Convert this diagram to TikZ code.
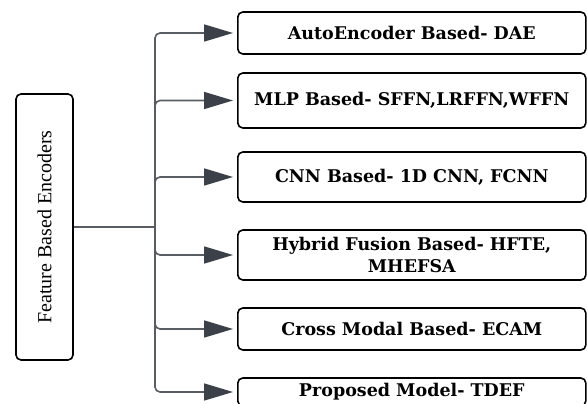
\documentclass[tikz,border=0pt]{standalone}
\usepackage{fontspec}
\setmainfont{Liberation Serif}
\newfontfamily\boxfont{DejaVu Serif}
\usetikzlibrary{arrows.meta}
\definecolor{linegray}{HTML}{585D64}
\definecolor{tipgray}{HTML}{3B4049}
\begin{document}
\begin{tikzpicture}[x=1pt, y=-1pt,
  catbox/.style={draw, line width=1.6pt, rounded corners=5pt, minimum width=348pt, anchor=west, font=\boxfont\bfseries\fontsize{17.5}{22}\selectfont},
  feed/.style={draw=linegray, line width=1.6pt, rounded corners=5pt, -{Triangle[length=29pt, width=17pt, fill=tipgray, color=tipgray]}, shorten >=4pt}]
\useasboundingbox (0,0) rectangle (587,404);
% Root node (rotated)
\node[draw, line width=1.6pt, rounded corners=5pt, minimum width=266pt, minimum height=57pt, rotate=90, font=\fontsize{20}{22}\selectfont] (enc) at (44.5,227) {Feature Based Encoders};
% Encoder families
\node[catbox, minimum height=42pt] (dae) at (237,33) {AutoEncoder Based- DAE};
\node[catbox, minimum height=55pt] (mlp) at (237,100.5) {MLP Based- SFFN,LRFFN,WFFN};
\node[catbox, minimum height=50pt] (cnn) at (237,177) {CNN Based- 1D CNN, FCNN};
\node[catbox, minimum height=50pt, align=center] (hyb) at (237,255) {Hybrid Fusion Based- HFTE,\\MHEFSA};
\node[catbox, minimum height=42pt] (cross) at (237,329) {Cross Modal Based- ECAM};
\node[catbox, minimum height=28pt] (tdef) at (237,392) {Proposed Model- TDEF};
% Trunk
\coordinate (split) at (155,227);
\draw[draw=linegray, line width=1.6pt] (enc.south) -- (split);
% Branches to each family
\foreach \fam in {dae, mlp, cnn, hyb, cross, tdef}
  \draw[feed] (split) |- (\fam.west);
\end{tikzpicture}
\end{document}
